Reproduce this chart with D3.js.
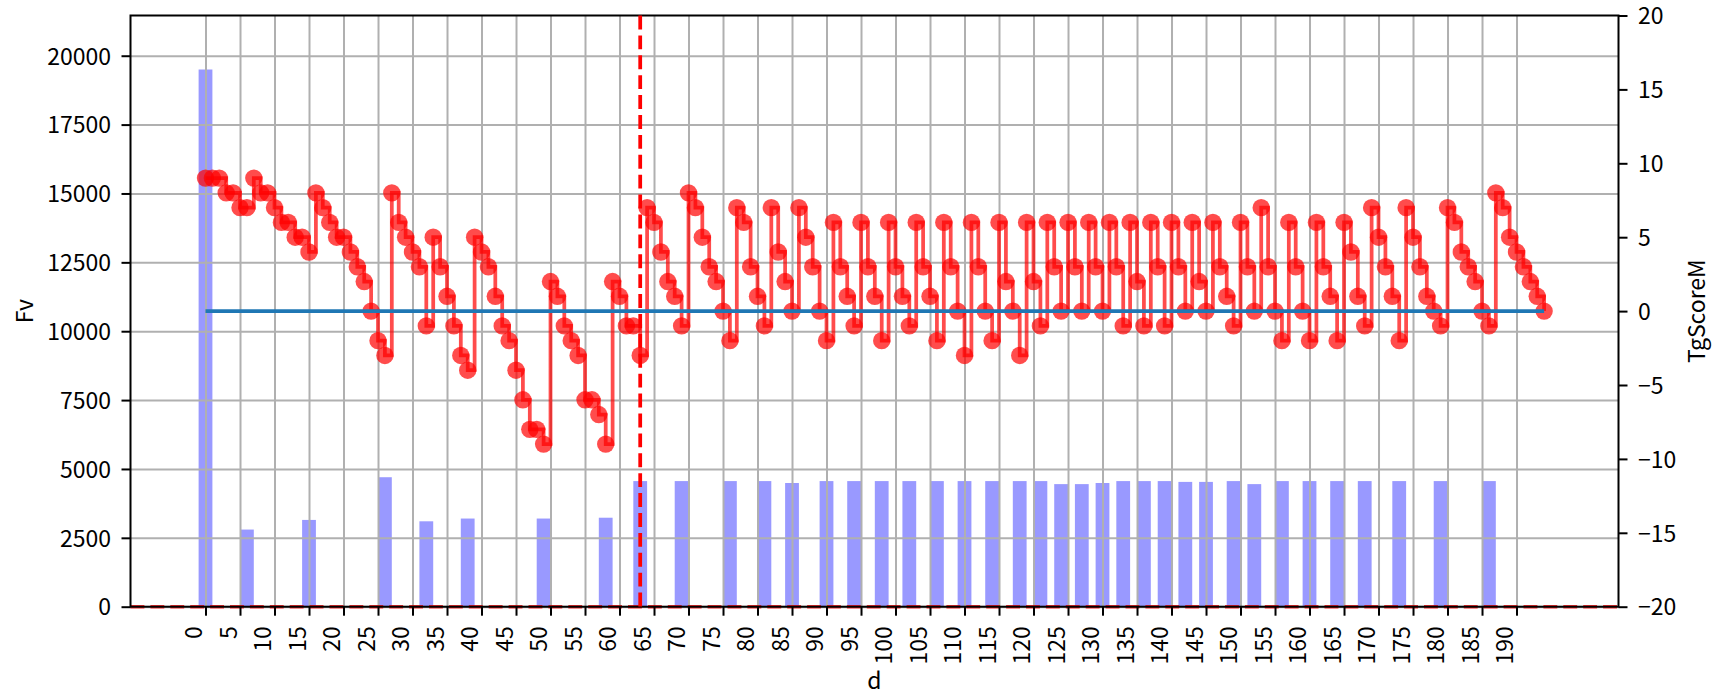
<!DOCTYPE html>
<html><head><meta charset="utf-8">
<script src="https://cdn.jsdelivr.net/npm/d3@7"></script>
<style>
body{margin:0;background:#fff;}
svg{display:block;}
text{font-family:"Noto Sans CJK JP","Noto Sans",sans-serif;fill:#000;}
</style>
</head><body>
<svg id="chart" width="1714" height="692"></svg>
<script>
// ---- data ----
const tgScoreM = [
  9,9,9,8,8,7,7,9,8,8,
  7,6,6,5,5,4,8,7,6,5,
  5,4,3,2,0,-2,-3,8,6,5,
  4,3,-1,5,3,1,-1,-3,-4,5,
  4,3,1,-1,-2,-4,-6,-8,-8,-9,
  2,1,-1,-2,-3,-6,-6,-7,-9,2,
  1,-1,-1,-3,7,6,4,2,1,-1,
  8,7,5,3,2,0,-2,7,6,3,
  1,-1,7,4,2,0,7,5,3,0,
  -2,6,3,1,-1,6,3,1,-2,6,
  3,1,-1,6,3,1,-2,6,3,0,
  -3,6,3,0,-2,6,2,0,-3,6,
  2,-1,6,3,0,6,3,0,6,3,
  0,6,3,-1,6,2,-1,6,3,-1,
  6,3,0,6,2,0,6,3,1,-1,
  6,3,0,7,3,0,-2,6,3,0,
  -2,6,3,1,-2,6,4,1,-1,7,
  5,3,1,-2,7,5,3,1,0,-1,
  7,6,4,3,2,0,-1,8,7,5,
  4,3,2,1,0
];
const barDays   = [0,6,15,26,32,38,49,58,63,69,76,81,85,90,94,98,102,106,110,114,118,121,124,127,130,133,136,139,142,145,149,152,156,160,164,168,173,179,186];
const barValues = [19500,2800,3150,4700,3100,3200,3200,3230,4560,4560,4560,4560,4490,4560,4560,4560,4560,4560,4560,4560,4560,4560,4450,4450,4490,4560,4560,4560,4530,4530,4560,4450,4560,4560,4560,4560,4560,4560,4560];
const xTickLabels = [0,5,10,15,20,25,30,35,40,45,50,55,60,65,70,75,80,85,90,95,100,105,110,115,120,125,130,135,140,145,150,155,160,165,170,175,180,185,190];
const leftTicks  = [0,2500,5000,7500,10000,12500,15000,17500,20000];
const rightTicks = [-20,-15,-10,-5,0,5,10,15,20];
const zeroLevel = 0;
const cutoffDay = 63;
const xLabel = "d", leftLabel = "Fv", rightLabel = "TgScoreM";

// ---- layout ----
const M = {l:130.5, r:1618.5, t:15.5, b:606.7};
const FS = 23;
const svg = d3.select("#chart");
const x  = d3.scaleLinear().domain([-10.87, 204.78]).range([M.l, M.r]);
const yL = d3.scaleLinear().domain([0, 21460]).range([M.b, M.t]);
const yR = d3.scaleLinear().domain([-20, 20]).range([M.b, M.t]);
const days = tgScoreM.map((v,i)=>i);

// bars (ax1)
svg.append("g").selectAll("rect").data(barDays).join("rect")
  .attr("x", (d)=>x(d-1)).attr("width", (d)=>x(d+1)-x(d-1))
  .attr("y", (d,i)=>yL(barValues[i])).attr("height", (d,i)=>yL(0)-yL(barValues[i]))
  .attr("fill","blue").attr("fill-opacity",0.4);

// grid
const gx = svg.append("g").attr("transform",`translate(0,${M.b})`)
  .call(d3.axisBottom(x).tickValues(xTickLabels).tickSize(-(M.b-M.t)).tickFormat(""));
const gy = svg.append("g").attr("transform",`translate(${M.l},0)`)
  .call(d3.axisLeft(yL).tickValues(leftTicks).tickSize(-(M.r-M.l)).tickFormat(""));
[gx,gy].forEach(g=>{g.select(".domain").remove();
  g.selectAll("line").attr("stroke","#b0b0b0").attr("stroke-width",2);});

// bottom dashed red line at 0
svg.append("line").attr("x1",M.l).attr("x2",M.r).attr("y1",yL(0)).attr("y2",yL(0))
  .attr("stroke","red").attr("stroke-opacity",0.8).attr("stroke-width",3.5).attr("stroke-dasharray","13.9,6");

// axes ticks
const ax = svg.append("g").attr("transform",`translate(0,${M.b})`)
  .call(d3.axisBottom(x).tickValues(xTickLabels).tickSize(9).tickFormat(d=>d));
ax.selectAll(".tick text").attr("y",null).attr("dy",null).attr("x",null)
  .attr("text-anchor","end")
  .attr("transform","translate(-4,19.5) rotate(-90)");
const al = svg.append("g").attr("transform",`translate(${M.l},0)`)
  .call(d3.axisLeft(yL).tickValues(leftTicks).tickSize(9).tickFormat(d=>d));
al.selectAll(".tick text").attr("x",-19.5).attr("dy","0.36em");
const ar = svg.append("g").attr("transform",`translate(${M.r},0)`)
  .call(d3.axisRight(yR).tickValues(rightTicks).tickSize(9).tickFormat(d=>d<0?"\u2212"+Math.abs(d):d));
ar.selectAll(".tick text").attr("x",19.5).attr("dy","0.36em");
[ax,al,ar].forEach(g=>{g.select(".domain").remove();
  g.selectAll(".tick line").attr("stroke","#000").attr("stroke-width",2);
  g.selectAll(".tick text").style("font-size",FS+"px").style("font-family",'"Noto Sans CJK JP","Noto Sans",sans-serif').attr("fill","#000");});

// spines
svg.append("rect").attr("x",M.l).attr("y",M.t).attr("width",M.r-M.l).attr("height",M.b-M.t)
  .attr("fill","none").attr("stroke","#000").attr("stroke-width",2);

// cutoff vertical dashed line
svg.append("line").attr("x1",x(cutoffDay)).attr("x2",x(cutoffDay)).attr("y1",M.t).attr("y2",M.b)
  .attr("stroke","red").attr("stroke-width",3.75).attr("stroke-dasharray","13.9,6");

// red step line (ax2)
const line = d3.line().x((v,i)=>x(days[i])).y(v=>yR(v)).curve(d3.curveStepAfter);
svg.append("path").datum(tgScoreM).attr("d",line).attr("fill","none")
  .attr("stroke","red").attr("stroke-width",3.75).attr("stroke-opacity",0.7);
svg.append("g").selectAll("circle").data(tgScoreM).join("circle")
  .attr("cx",(v,i)=>x(days[i])).attr("cy",v=>yR(v)).attr("r",8.7)
  .attr("fill","red").attr("fill-opacity",0.7);

// blue zero line
svg.append("line").attr("x1",x(days[0])).attr("x2",x(days[days.length-1]))
  .attr("y1",yR(zeroLevel)).attr("y2",yR(zeroLevel))
  .attr("stroke","#1f77b4").attr("stroke-width",3.75);

// axis labels
svg.append("text").attr("x",(M.l+M.r)/2).attr("y",689).attr("text-anchor","middle")
  .style("font-size",FS+"px").text(xLabel);
svg.append("text").attr("transform",`translate(33,${(M.t+M.b)/2}) rotate(-90)`).attr("text-anchor","middle")
  .style("font-size",FS+"px").text(leftLabel);
svg.append("text").attr("transform",`translate(1705,${(M.t+M.b)/2}) rotate(-90)`).attr("text-anchor","middle")
  .style("font-size",FS+"px").text(rightLabel);
</script>
</body></html>
